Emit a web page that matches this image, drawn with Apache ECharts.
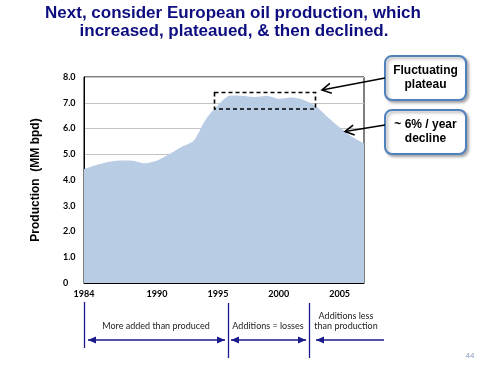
<!DOCTYPE html>
<html>
<head>
<meta charset="utf-8">
<script src="https://cdn.jsdelivr.net/npm/echarts@6/dist/echarts.min.js"></script>
<style>
html,body{margin:0;padding:0;background:#fff;}
#c{width:498px;height:368px;}
</style>
</head>
<body>
<div id="c"></div>
<script>
// ---- data ----
const years = ['1984','1985','1986','1987','1988','1989','1990','1991','1992','1993','1994','1995',
               '1996','1997','1998','1999','2000','2001','2002','2003','2004','2005','2006','2007'];
const production = [4.42,4.58,4.70,4.76,4.75,4.65,4.76,5.00,5.28,5.52,6.35,6.90,
                    7.28,7.27,7.22,7.27,7.15,7.20,7.12,6.88,6.45,6.05,5.68,5.42];
const shownYearLabels = ['1984','1990','1995','2000','2005'];
const yTicks = [0,1,2,3,4,5,6,7,8];
const titleLines = ['Next, consider European oil production, which', 'increased, plateaued, & then declined.'];
const callouts = [['Fluctuating', 'plateau'], ['~ 6% / year', 'decline']];
const phases = ['More added than produced', 'Additions = losses', 'Additions less\nthan production'];

// ---- helpers for annotation arrows ----
const NAVY = '#1a1a8c';
function openArrow(x1,y1,x2,y2,color){
  const dx=x2-x1, dy=y2-y1, L=Math.hypot(dx,dy), ux=dx/L, uy=dy/L;
  const hl=9, hw=5;
  const bx=x2-ux*hl, by=y2-uy*hl;
  return [
    {type:'line', shape:{x1:x1,y1:y1,x2:x2,y2:y2}, style:{stroke:color,lineWidth:1.6}},
    {type:'polyline', shape:{points:[[bx-uy*hw,by+ux*hw],[x2,y2],[bx+uy*hw,by-ux*hw]]},
     style:{stroke:color,lineWidth:1.6,fill:null}}
  ];
}
function filledHead(x,y,dir,color){
  return {type:'polygon', shape:{points:[[x,y],[x-dir*8,y-3.5],[x-dir*8,y+3.5]]}, style:{fill:color}};
}

const chart = echarts.init(document.getElementById('c'), null, {renderer:'canvas'});

const graphics = [];
// title
graphics.push({type:'text', x:233, y:13, style:{text:titleLines[0], align:'center', verticalAlign:'middle',
  font:'bold 17px "Liberation Sans", Arial, sans-serif', fill:'#0d0d80'}});
graphics.push({type:'text', x:234, y:31, style:{text:titleLines[1], align:'center', verticalAlign:'middle',
  font:'bold 17px "Liberation Sans", Arial, sans-serif', fill:'#0d0d80'}});
// dashed plateau box
graphics.push({type:'rect', shape:{x:214.5,y:92.5,width:101,height:16.5},
  style:{fill:null, stroke:'#000', lineWidth:1.6, lineDash:[4,3]}, z:100});
// callout boxes
const boxes = [{y:56},{y:110}];
boxes.forEach((b,i)=>{
  graphics.push({type:'rect', shape:{x:385,y:b.y,width:81,height:44,r:7},
    style:{fill:'#fff', stroke:'#4f81bd', lineWidth:2, shadowBlur:3, shadowOffsetX:2, shadowOffsetY:2, shadowColor:'rgba(0,0,0,0.3)'}, z:100});
  graphics.push({type:'text', x:425.5, y:b.y+22, style:{text:callouts[i].join('\n'), align:'center', verticalAlign:'middle',
    font:'bold 12px "Liberation Sans", Arial, sans-serif', lineHeight:14, fill:'#000'}, z:101});
});
openArrow(385,78,322,90,'#000').forEach(g=>{g.z=100;graphics.push(g);});
openArrow(385,125,345,131.5,'#000').forEach(g=>{g.z=100;graphics.push(g);});

// bottom phase markers
[[84.5,302,348],[228.5,303,358],[309.5,303,358]].forEach(v=>{
  graphics.push({type:'line', shape:{x1:v[0],y1:v[1],x2:v[0],y2:v[2]}, style:{stroke:NAVY,lineWidth:1.3}});
});
const ay = 340;
graphics.push({type:'line', shape:{x1:88,y1:ay,x2:225,y2:ay}, style:{stroke:NAVY,lineWidth:1.3}});
graphics.push(filledHead(88,ay,-1,NAVY), filledHead(225,ay,1,NAVY));
graphics.push({type:'line', shape:{x1:231,y1:ay,x2:306,y2:ay}, style:{stroke:NAVY,lineWidth:1.3}});
graphics.push(filledHead(231,ay,-1,NAVY), filledHead(306,ay,1,NAVY));
graphics.push({type:'line', shape:{x1:316,y1:ay,x2:384,y2:ay}, style:{stroke:NAVY,lineWidth:1.3}});
graphics.push(filledHead(316,ay,-1,NAVY));
const phaseFont = '9px Lato, "Liberation Sans", sans-serif';
graphics.push({type:'text', x:156, y:326, style:{text:phases[0], align:'center', verticalAlign:'middle', font:phaseFont, fill:'#222'}});
graphics.push({type:'text', x:268, y:326, style:{text:phases[1], align:'center', verticalAlign:'middle', font:phaseFont, fill:'#222'}});
graphics.push({type:'text', x:346, y:321, style:{text:phases[2], align:'center', verticalAlign:'middle', font:phaseFont, lineHeight:10, fill:'#222'}});
// page number
graphics.push({type:'text', x:470, y:356, style:{text:'44', align:'center', verticalAlign:'middle', font:'8px "Liberation Sans", sans-serif', fill:'#8a9cc0'}});

chart.setOption({
  animation:false,
  backgroundColor:'#fff',
  grid:{left:84, top:77, right:134, bottom:85, show:true, borderColor:'#000', borderWidth:1, backgroundColor:'transparent'},
  xAxis:{
    type:'category', data:years, boundaryGap:false,
    axisLine:{show:true, lineStyle:{color:'#000'}},
    axisTick:{show:false},
    axisLabel:{
      interval:(idx,val)=>shownYearLabels.indexOf(val)>=0,
      margin:7, color:'#000', fontWeight:'bold', fontSize:9, fontFamily:'Lato, "Liberation Sans", sans-serif'
    },
    splitLine:{show:false}
  },
  yAxis:{
    type:'value', min:yTicks[0], max:yTicks[yTicks.length-1], interval:1,
    name:'Production  (MM bpd)', nameLocation:'middle', nameGap:42, nameRotate:90,
    nameTextStyle:{fontFamily:'"Liberation Sans", Arial, sans-serif', fontWeight:'bold', fontSize:12, color:'#000'},
    axisLine:{show:true, lineStyle:{color:'#000'}},
    axisTick:{show:false},
    axisLabel:{formatter:v=>v===0?'0':v.toFixed(1), align:'left', margin:21, color:'#000', fontWeight:'bold', fontSize:9,
      fontFamily:'Lato, "Liberation Sans", sans-serif'},
    splitLine:{show:true, lineStyle:{color:'#c4c4c4', width:1}}
  },
  series:[{
    type:'line', data:production, symbol:'none', smooth:0.25,
    lineStyle:{width:0, color:'#b8cce4'},
    areaStyle:{color:'#b8cce4', opacity:1}
  }],
  graphic: graphics
});
</script>
</body>
</html>
